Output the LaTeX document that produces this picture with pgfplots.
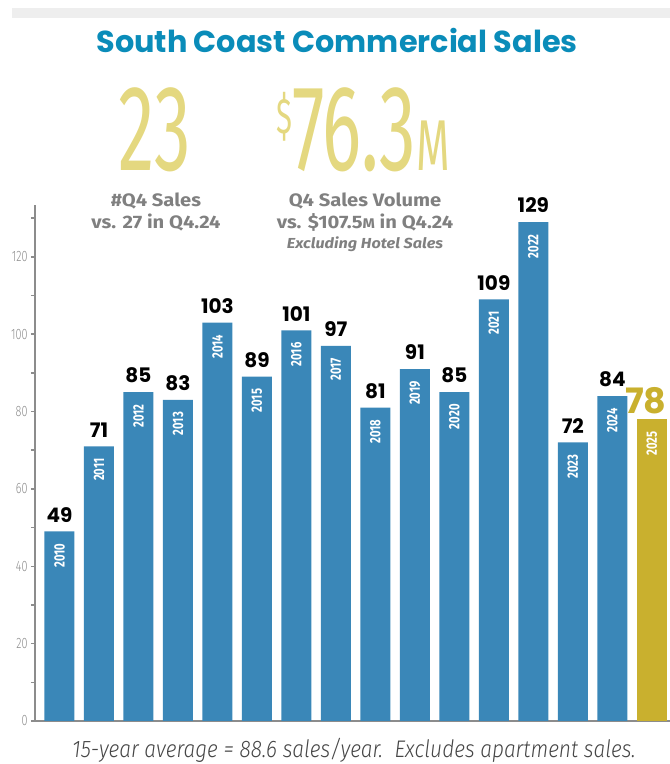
\documentclass[border=0pt]{standalone}
\usepackage{fontspec}
\usepackage{pgfplots}
\usepackage{pgfplotstable}
\pgfplotsset{compat=1.18}
\setmainfont{Fira Sans}
\newfontfamily\titlefont{Poppins}
\newfontfamily\firacond[FakeStretch=0.72]{Fira Sans Light}
\newfontfamily\firacondbold[FakeStretch=0.75]{Fira Sans Bold}
\newfontfamily\bigfont[FakeStretch=0.6]{Fira Sans}
\newfontfamily\subfont[FakeStretch=1.12]{Fira Sans}
\newfontfamily\footfont[FakeStretch=0.87]{Fira Sans Light}
\definecolor{titleblue}{RGB}{10,140,185}
\definecolor{barblue}{RGB}{58,135,184}
\definecolor{bargold}{RGB}{201,176,46}
\definecolor{biggold}{RGB}{228,216,128}
\definecolor{subgray}{RGB}{128,128,128}
\definecolor{axisgray}{RGB}{140,140,140}
\definecolor{stripgray}{RGB}{238,238,238}
\definecolor{footgray}{RGB}{70,70,70}

\pgfplotstableread{
x y year
0 49 2010
1 71 2011
2 85 2012
3 83 2013
4 103 2014
5 89 2015
6 101 2016
7 97 2017
8 81 2018
9 91 2019
10 85 2020
11 109 2021
12 129 2022
13 72 2023
14 84 2024
}\bluedata
\pgfplotstableread{
x y year
15 78 2025
}\golddata

\begin{document}
\begin{tikzpicture}[x=1pt,y=1pt]
\path[use as bounding box] (0,0) rectangle (670,764);
\fill[stripgray] (12,746) rectangle (670,756);
\node[anchor=base, text=titleblue, font=\titlefont\bfseries\fontsize{30.3}{30.3}\selectfont] at (337,711) {South Coast Commercial Sales};
% big figures
\node[anchor=base, text=biggold, font=\bigfont\fontsize{122}{122}\selectfont, inner sep=0pt] at (155,593) {23};
\node[anchor=base, text=biggold, inner sep=0pt] at (363,593) {\raisebox{37pt}{\bigfont\fontsize{50}{50}\selectfont\$}\bigfont\fontsize{122}{122}\selectfont 76.3\fontsize{72}{72}\selectfont M};
% subtitles
\node[anchor=base, text=subgray, font=\subfont\bfseries\fontsize{18}{18}\selectfont, inner sep=0pt] at (156,557) {\#Q4 Sales};
\node[anchor=base, text=subgray, font=\subfont\bfseries\fontsize{18}{18}\selectfont, inner sep=0pt] at (156,535) {vs. 27 in Q4.24};
\node[anchor=base, text=subgray, font=\subfont\bfseries\fontsize{18}{18}\selectfont, inner sep=0pt] at (365,557) {Q4 Sales Volume};
\node[anchor=base, text=subgray, font=\subfont\bfseries\fontsize{18}{18}\selectfont, inner sep=0pt] at (365,535) {vs. \$107.5{\fontsize{14}{14}\selectfont M} in Q4.24};
\node[anchor=base, text=subgray, font=\subfont\bfseries\itshape\fontsize{14.5}{14.5}\selectfont, inner sep=0pt] at (365,515) {Excluding Hotel Sales};
% footer
\node[anchor=base, text=footgray, font=\footfont\itshape\fontsize{24}{24}\selectfont, inner sep=0pt] at (354,6) {15-year average = 88.6 sales/year.\ \ Excludes apartment sales.};

\begin{axis}[
  at={(35pt,43pt)}, anchor=south west,
  scale only axis, width=635pt, height=516pt,
  xmin=-0.62, xmax=15.46, ymin=0, ymax=133.4,
  axis lines=left,
  axis line style={-, draw=axisgray, line width=2.5pt},
  xtick=\empty,
  ytick={0,20,...,120},
  minor ytick={10,30,...,130},
  tick align=outside,
  major tick length=4pt, minor tick length=4pt,
  tick style={axisgray, line width=1.5pt},
  /pgf/number format/assume math mode=true,
  yticklabel style={font=\firacond\fontsize{15}{15}\selectfont, text=axisgray},
  clip=false,
]
\addplot[ybar, bar width=30pt, bar shift=0pt, fill=barblue, draw=none,
  nodes near coords,
  nodes near coords style={font=\titlefont\bfseries\fontsize{20}{20}\selectfont, text=black, anchor=south, inner sep=0pt, yshift=9pt}]
  table[x=x,y=y] {\bluedata};
\addplot[only marks, mark=none, point meta=explicit symbolic,
  nodes near coords,
  nodes near coords style={font=\firacondbold\fontsize{15}{15}\selectfont, text=white, inner sep=0pt, yshift=-12pt, rotate=90, anchor=east}]
  table[x=x,y=y,meta=year] {\bluedata};
\addplot[ybar, bar width=30pt, bar shift=0pt, fill=bargold, draw=none,
  nodes near coords,
  nodes near coords style={font=\titlefont\bfseries\fontsize{35}{35}\selectfont, text=bargold, anchor=south, inner sep=0pt, yshift=5pt, xshift=-6pt}]
  table[x=x,y=y] {\golddata};
\addplot[only marks, mark=none, point meta=explicit symbolic,
  nodes near coords,
  nodes near coords style={font=\firacondbold\fontsize{15}{15}\selectfont, text=white, inner sep=0pt, yshift=-12pt, rotate=90, anchor=east}]
  table[x=x,y=y,meta=year] {\golddata};
\end{axis}
\end{tikzpicture}
\end{document}
